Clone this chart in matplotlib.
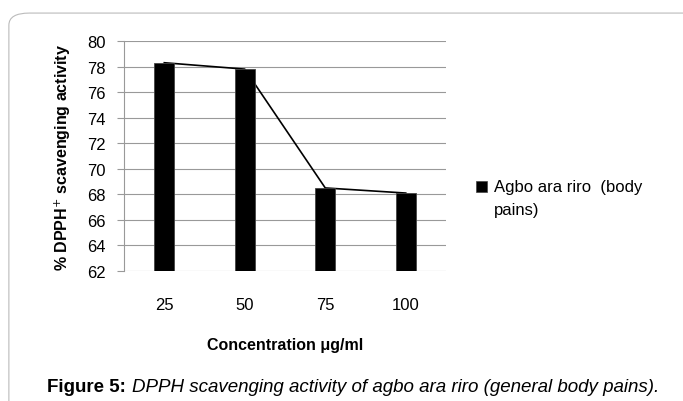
import matplotlib.pyplot as plt
from matplotlib.patches import FancyBboxPatch, Rectangle

plt.rcParams['font.family'] = ['Liberation Sans', 'DejaVu Sans']

concentrations = ['25', '50', '75', '100']
scavenging = [78.3, 77.8, 68.5, 68.1]
series_name = 'Agbo ara riro  (body\npains)'
y_ticks = list(range(62, 81, 2))


def main():
	fig = plt.figure(figsize=(6.83, 4.02), dpi=100)

	# rounded frame, only top and left show
	frame = FancyBboxPatch((0.013, -0.2), 1.2, 1.165, boxstyle='round,pad=0,rounding_size=0.03',
		transform=fig.transFigure, fill=False, edgecolor='#bbbbbb', linewidth=0.8)
	fig.patches.append(frame)

	ax = fig.add_axes([0.1816, 0.3234, 0.4714, 0.5721])
	x = list(range(len(concentrations)))
	# line sits behind the bars
	ax.plot(x, scavenging, color='black', linewidth=1.2, zorder=2)
	ax.bar(x, [v - 62 for v in scavenging], bottom=62, width=0.25, color='black',
		edgecolor='#444444', linewidth=0.6, zorder=3)

	ax.set_ylim(62, 80)
	ax.set_xlim(-0.5, 3.5)
	ax.set_yticks(y_ticks)
	ax.yaxis.grid(True, color='#999999', linewidth=0.8, zorder=0)
	ax.set_xticks(x)
	ax.set_xticklabels(concentrations)
	ax.tick_params(axis='x', length=0, pad=19, labelsize=12)
	ax.tick_params(axis='y', length=5, color='#999999', width=0.8, pad=8, labelsize=12)
	for side in ['top', 'right', 'bottom']:
		ax.spines[side].set_visible(False)
	ax.spines['left'].set_color('#999999')

	ax.set_ylabel('% DPPH$^{+}$ scavenging activity', fontsize=11.5, fontweight='bold', labelpad=10)
	ax.set_xlabel('Concentration \u03bcg/ml', fontsize=11.5, fontweight='bold', labelpad=18)

	# legend
	fig.patches.append(Rectangle((0.697, 0.52), 0.0161, 0.0274, transform=fig.transFigure,
		facecolor='black', edgecolor='#444444', linewidth=0.5))
	fig.text(0.723, 0.551, series_name, fontsize=12, va='top', ha='left', linespacing=1.6)

	fig.text(0.069, 0.025, 'Figure 5:', fontsize=13.5, fontweight='bold', va='baseline')
	fig.text(0.193, 0.025, 'DPPH scavenging activity of agbo ara riro (general body pains).',
		fontsize=13.5, style='italic', va='baseline')

	plt.savefig('out.png', dpi=100)


if __name__ == '__main__':
	main()
